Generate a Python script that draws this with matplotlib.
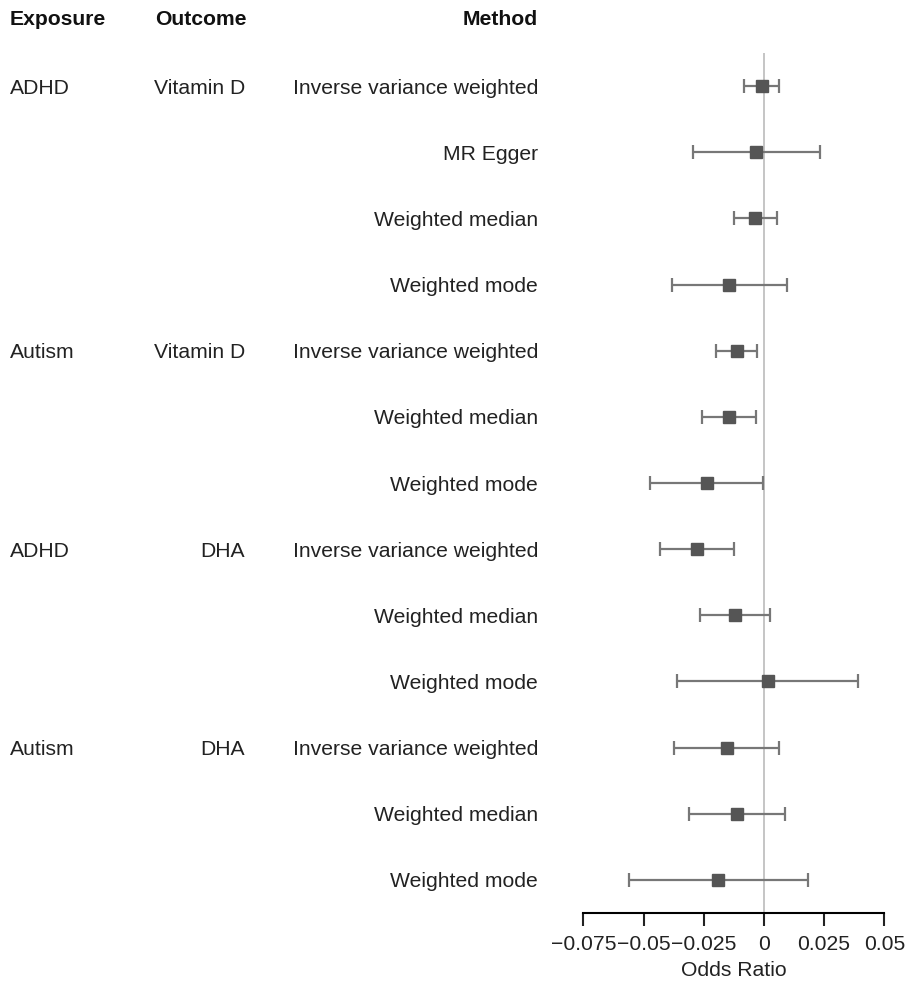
import matplotlib
matplotlib.use("Agg")
import matplotlib.pyplot as plt
from matplotlib.transforms import blended_transform_factory

plt.rcParams['font.family'] = ['Liberation Sans', 'DejaVu Sans']

# Data
exposure = ["ADHD", "", "", "", "Autism", "", "", "ADHD", "", "", "Autism", "", ""]
outcome = ["Vitamin D", "", "", "", "Vitamin D", "", "", "DHA", "", "", "DHA", "", ""]
method = ["Inverse variance weighted", "MR Egger", "Weighted median", "Weighted mode",
          "Inverse variance weighted", "Weighted median", "Weighted mode",
          "Inverse variance weighted", "Weighted median", "Weighted mode",
          "Inverse variance weighted", "Weighted median", "Weighted mode"]
estimate = [-0.0008, -0.0032, -0.0036, -0.0143,
            -0.0113, -0.0145, -0.0237,
            -0.0278, -0.0120, 0.0015,
            -0.0155, -0.0111, -0.0190]
lower = [-0.0083, -0.0295, -0.0123, -0.0381,
         -0.0199, -0.0256, -0.0472,
         -0.0432, -0.0267, -0.0360,
         -0.0374, -0.0310, -0.0562]
upper = [0.0064, 0.0233, 0.0053, 0.0097,
         -0.0028, -0.0032, -0.0003,
         -0.0126, 0.0026, 0.0392,
         0.0064, 0.0088, 0.0183]
xticks = [-0.075, -0.05, -0.025, 0, 0.025, 0.05]
xtick_labels = ["\u22120.075", "\u22120.05", "\u22120.025", "0", "0.025", "0.05"]

W, H = 906, 986
fig = plt.figure(figsize=(W / 100, H / 100), dpi=100)
ax = fig.add_axes([583.3 / W, 1 - 913 / H, (884.3 - 583.3) / W, (913 - 53) / H])

rows = list(range(1, len(method) + 1))
ax.axvline(0, color="#bbbbbb", lw=1.2, zorder=0)
for y, est, lo, hi in zip(rows, estimate, lower, upper):
    ax.errorbar(est, y, xerr=[[est - lo], [hi - est]], fmt="s", color="#777777",
                ecolor="#777777", elinewidth=1.6, capsize=5, capthick=1.6,
                markersize=8.5, markerfacecolor="#555555", markeredgecolor="#555555")

ax.set_xlim(-0.075, 0.05)
ax.set_ylim(len(method) + 0.5, 0.5)
ax.set_yticks([])
ax.set_xticks(xticks)
ax.set_xticklabels(xtick_labels)
for s in ["top", "right", "left"]:
    ax.spines[s].set_visible(False)
ax.spines["bottom"].set_linewidth(1.5)
fs = 15.2
ax.tick_params(axis="x", length=9, width=1.5, labelsize=fs, pad=7, colors="#222222")
ax.set_xlabel("Odds Ratio", fontsize=fs, labelpad=5, color="#222222")

tr = blended_transform_factory(fig.transFigure, ax.transData)
ax.text(10 / W, -0.03, "Exposure", transform=tr, ha="left", va="center_baseline", fontsize=fs, fontweight="bold", color="#111111")
ax.text(155 / W, -0.03, "Outcome", transform=tr, ha="left", va="center_baseline", fontsize=fs, fontweight="bold", color="#111111")
ax.text(538 / W, -0.03, "Method", transform=tr, ha="right", va="center_baseline", fontsize=fs, fontweight="bold", color="#111111")
for y, e, o, m in zip(rows, exposure, outcome, method):
    ax.text(10 / W, y, e, transform=tr, ha="left", va="center_baseline", fontsize=fs, color="#222222")
    ax.text(245 / W, y, o, transform=tr, ha="right", va="center_baseline", fontsize=fs, color="#222222")
    ax.text(538 / W, y, m, transform=tr, ha="right", va="center_baseline", fontsize=fs, color="#222222")

fig.savefig("out.png", dpi=100)
